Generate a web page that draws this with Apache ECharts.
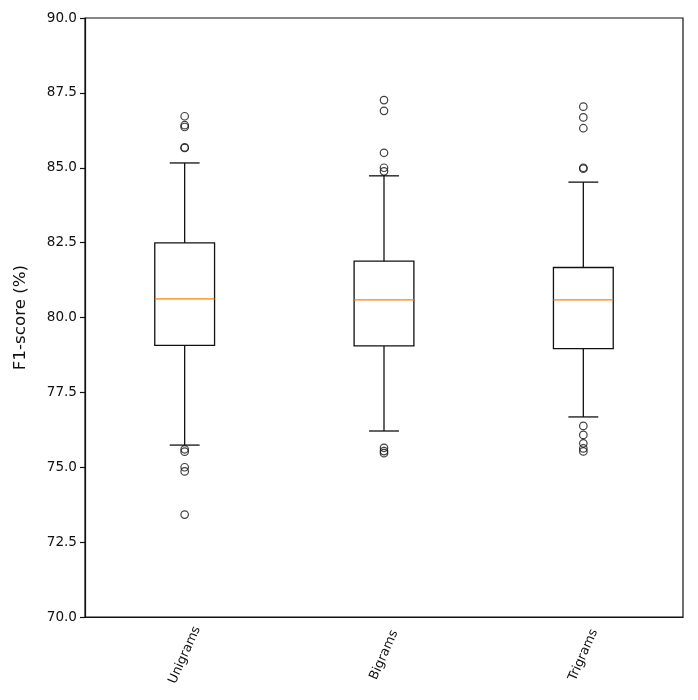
<!DOCTYPE html>
<html>
<head>
<meta charset="utf-8">
<script src="https://cdn.jsdelivr.net/npm/echarts@6/dist/echarts.min.js"></script>
<style>
html,body{margin:0;padding:0;background:#fff;}
#chart{width:698px;height:700px;}
</style>
</head>
<body>
<div id="chart"></div>
<script>
// Data
const categories = ['Unigrams', 'Bigrams', 'Trigrams'];
// [lower whisker, Q1, median, Q3, upper whisker]
const unigramsBox = [75.74, 79.07, 80.62, 82.49, 85.16];
const bigramsBox  = [76.21, 79.05, 80.59, 81.88, 84.73];
const trigramsBox = [76.68, 78.96, 80.59, 81.67, 84.52];
const unigramsOutliers = [86.72, 86.42, 86.36, 85.68, 85.66, 75.60, 75.52, 75.00, 74.86, 73.42];
const bigramsOutliers  = [87.26, 86.90, 85.50, 85.00, 84.88, 75.65, 75.54, 75.47];
const trigramsOutliers = [87.04, 86.68, 86.32, 85.00, 84.97, 76.38, 76.08, 75.80, 75.63, 75.53];
const yTicks = [70.0, 72.5, 75.0, 77.5, 80.0, 82.5, 85.0, 87.5, 90.0];

const boxes = [unigramsBox, bigramsBox, trigramsBox];
const outliers = [unigramsOutliers, bigramsOutliers, trigramsOutliers];

const boxData = boxes.map((b, i) => [i].concat(b));
const outlierData = [];
outliers.forEach((arr, i) => arr.forEach(v => outlierData.push([i, v])));

const FONT = 'DejaVu Sans';
const chart = echarts.init(document.getElementById('chart'));

chart.setOption({
  animation: false,
  backgroundColor: '#fff',
  grid: { left: 85, right: 15, top: 18, bottom: 83, show: true, borderColor: '#111', borderWidth: 1.2, backgroundColor: 'transparent' },
  xAxis: {
    type: 'category',
    data: categories,
    axisLine: { lineStyle: { color: '#111', width: 1.2 } },
    axisTick: { alignWithLabel: true, length: 5, lineStyle: { color: '#111', width: 1.2 } },
    axisLabel: { rotate: 66, align: 'center', verticalAlign: 'middle', margin: 38, color: '#111', fontFamily: FONT, fontSize: 12.8 },
    splitLine: { show: false }
  },
  yAxis: {
    type: 'value',
    min: yTicks[0], max: yTicks[yTicks.length - 1], interval: 2.5,
    name: 'F1-score (%)',
    nameLocation: 'middle',
    nameGap: 56,
    nameTextStyle: { color: '#111', fontFamily: FONT, fontSize: 16.7 },
    axisLine: { show: true, lineStyle: { color: '#111', width: 1.2 } },
    axisTick: { show: true, length: 5, lineStyle: { color: '#111', width: 1.2 } },
    axisLabel: { color: '#111', fontFamily: FONT, fontSize: 13.6, margin: 8, formatter: v => v.toFixed(1) },
    splitLine: { show: false }
  },
  series: [
    {
      type: 'custom',
      data: boxData,
      encode: { x: 0, y: [1, 2, 3, 4, 5] },
      renderItem: function (params, api) {
        const i = api.value(0);
        const lo = api.coord([i, api.value(1)]);
        const q1 = api.coord([i, api.value(2)]);
        const md = api.coord([i, api.value(3)]);
        const q3 = api.coord([i, api.value(4)]);
        const hi = api.coord([i, api.value(5)]);
        const band = api.size([1, 0])[0];
        const hw = band * 0.15;
        const cw = hw / 2;
        const x = lo[0];
        const ls = { stroke: '#111', lineWidth: 1.3, fill: null };
        return {
          type: 'group',
          children: [
            { type: 'rect', shape: { x: x - hw, y: q3[1], width: hw * 2, height: q1[1] - q3[1] }, style: { stroke: '#111', lineWidth: 1.3, fill: 'none' } },
            { type: 'line', shape: { x1: x, y1: q1[1], x2: x, y2: lo[1] }, style: ls },
            { type: 'line', shape: { x1: x, y1: q3[1], x2: x, y2: hi[1] }, style: ls },
            { type: 'line', shape: { x1: x - cw, y1: lo[1], x2: x + cw, y2: lo[1] }, style: ls },
            { type: 'line', shape: { x1: x - cw, y1: hi[1], x2: x + cw, y2: hi[1] }, style: ls },
            { type: 'line', shape: { x1: x - hw, y1: md[1], x2: x + hw, y2: md[1] }, style: { stroke: '#ff7f0e', lineWidth: 1.3 } }
          ]
        };
      }
    },
    {
      type: 'scatter',
      data: outlierData,
      symbol: 'circle',
      symbolSize: 7.5,
      itemStyle: { color: 'rgba(255,255,255,0)', borderColor: '#111', borderWidth: 1.2 }
    }
  ]
});
</script>
</body>
</html>
